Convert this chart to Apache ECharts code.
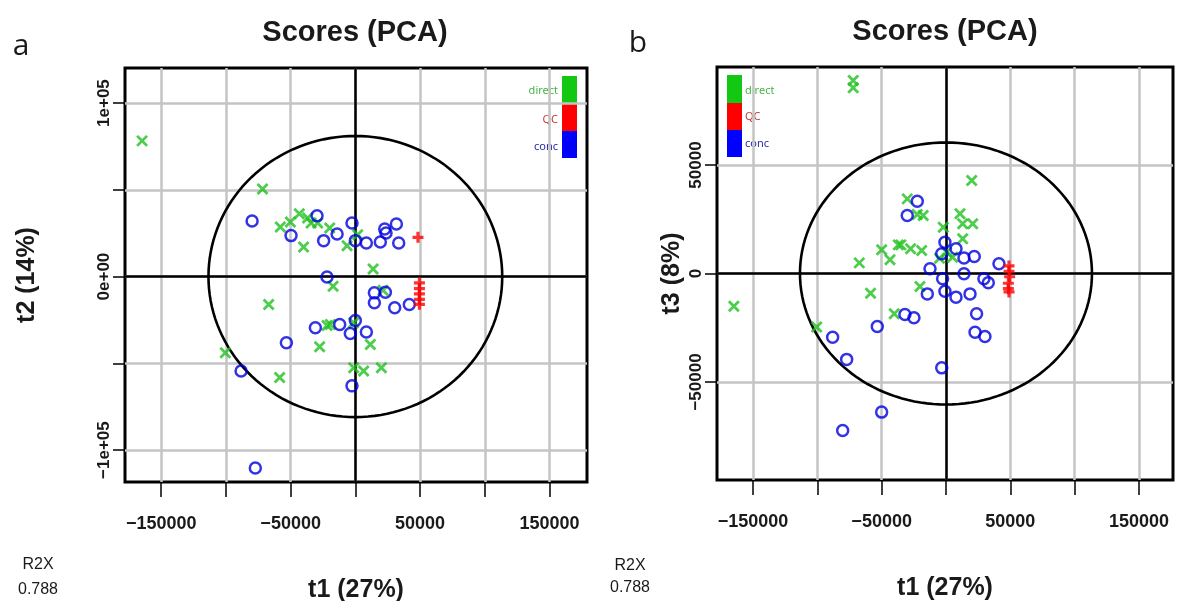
<!DOCTYPE html>
<html>
<head>
<meta charset="utf-8">
<title>Scores (PCA)</title>
<script src="https://cdn.jsdelivr.net/npm/echarts@6/dist/echarts.min.js"></script>
<style>
  html, body { margin: 0; padding: 0; background: #fff; }
  #chart { width: 1182px; height: 601px; }
</style>
</head>
<body>
<div id="chart"></div>
<script>
// panel a: t1 vs t2, panel b: t1 vs t3
const aDirect = [
  [-164800, 78200], [-71700, 50500], [-43300, 36200], [-50200, 31400], [-58000, 28500],
  [-36900, 33700], [-34200, 30900], [-29100, 30900], [-19800, 28000], [-40000, 17100],
  [-6400, 17800], [1800, 24100], [13700, 4400], [-17200, -5600], [21400, -7900],
  [-67000, -16100], [-21900, -28200], [-19300, -27600], [-1300, -26600], [-27600, -40400],
  [11600, -39100], [-100500, -43900], [-58500, -58200], [-1300, -52500], [6400, -54400], [20100, -52500]
];
const aQC = [[48400, 22600], [49500, -3600], [49500, -7000], [49500, -10000], [49500, -13200], [49500, -16000]];
const aConc = [
  [-79800, 32000], [-29600, 35000], [-49700, 23600], [-24500, 20700], [-14100, 24500],
  [-2600, 30900], [0, 20700], [8500, 19400], [19300, 19900], [22700, 27400],
  [23700, 25100], [31700, 30300], [33500, 19400], [-21900, -200], [14700, -9400],
  [23200, -9000], [14700, -15100], [30400, -18000], [41700, -16100], [-30900, -29500],
  [-12100, -27600], [0, -25300], [-3900, -32800], [8500, -32000], [-53300, -38100],
  [-88300, -54400], [-77300, -110300], [-2600, -63000]
];

const bDirect = [
  [-72100, 89000], [-72100, 85600], [-30100, 34400], [-22300, 27200], [-17700, 26700],
  [-50000, 10900], [-43500, 6300], [-37100, 13200], [-35000, 13200], [-27500, 11400],
  [-18900, 10600], [-67400, 4900], [-2100, 21300], [-5000, 7000], [20000, 42900],
  [10900, 27500], [13000, 22900], [20800, 22900], [13000, 16000], [500, 9800],
  [5200, 7500], [-58600, -9100], [-20200, -6000], [-40200, -18600], [-164900, -15100], [-100500, -24700]
];
const bQC = [[49000, 3500], [49000, 1000], [49500, -1500], [48500, -4500], [48500, -7000], [49000, -8500]];
const bConc = [
  [-22300, 33300], [-30100, 26700], [-800, 14400], [-3300, 9100], [-12400, 2200],
  [7800, 11400], [14000, 7200], [22000, 7800], [41200, 4500], [-2600, -2400],
  [14000, -100], [29500, -2400], [32900, -4300], [-800, -8200], [-14500, -9400],
  [7800, -10900], [18700, -9400], [23800, -18600], [-31900, -18900], [-24900, -20400],
  [-53400, -24400], [22600, -27100], [30300, -29000], [-88100, -29400], [-77200, -39600],
  [-3300, -43500], [-50000, -63900], [-80300, -72400]
];

// Hotelling T2 ellipse: [centre t1, centre t2/t3, semi-axis t1, semi-axis t2/t3]
const aEllipse = [0, 0, 113500, 81000];
const bEllipse = [0, 0, 113500, 60400];

// ticks and labels
const xTicks = [-150000, -100000, -50000, 0, 50000, 100000, 150000];
const xLabels = [-150000, -50000, 50000, 150000];
const aYTicks = [-100000, -50000, 0, 50000, 100000];
const aYLabels = [-100000, 0, 100000];
const aYLabelText = ['−1e+05', '0e+00', '1e+05'];
const bYTicks = [-50000, 0, 50000];
const bYLabels = [-50000, 0, 50000];

const groups = ['direct', 'QC', 'conc'];
const groupColors = ['#1fc01f', '#ff0000', '#0000e0'];
const legendFill = ['#12c812', '#ff0000', '#0000ff'];
const legendTextColors = ['#45b545', '#c83a3a', '#2a2aa8'];

const FONT = '"Liberation Sans", Arial, sans-serif';
const crossSymbol = 'path://M0,0L10,10M10,0L0,10';
const plusSymbol = 'path://M5,0L5,10M0,5L10,5';

const chart = echarts.init(document.getElementById('chart'));

function minusSign(v) {
    return String(v).replace('-', '−');
}

function xAxisFor(gridIndex, min, max) {
    return {
        gridIndex: gridIndex,
        type: 'value',
        min: min,
        max: max,
        name: 't1 (27%)',
        nameLocation: 'middle',
        nameGap: 96,
        nameTextStyle: { fontFamily: FONT, fontWeight: 'bold', fontSize: 25, color: '#1a1a1a' },
        axisLine: { show: false, onZero: false },
        axisTick: { show: true, length: 15, customValues: xTicks, lineStyle: { color: '#000', width: 1.5 } },
        axisLabel: {
            customValues: xLabels, margin: 33, fontFamily: FONT, fontWeight: 'bold',
            fontSize: 18, color: '#1a1a1a', formatter: minusSign
        },
        splitLine: { show: true, lineStyle: { color: '#c4c4c4', width: 2.5 } }
    }
}

function yAxisFor(gridIndex, min, max, name, ticks, labels, fmt, gap) {
    return {
        gridIndex: gridIndex,
        type: 'value',
        min: min,
        max: max,
        name: name,
        nameLocation: 'middle',
        nameGap: gap,
        nameTextStyle: { fontFamily: FONT, fontWeight: 'bold', fontSize: 25, color: '#1a1a1a' },
        axisLine: { show: false, onZero: false },
        axisTick: { show: true, length: 12, customValues: ticks, lineStyle: { color: '#000', width: 1.5 } },
        axisLabel: {
            customValues: labels, rotate: 90, margin: 12, fontFamily: FONT, fontWeight: 'bold',
            fontSize: 17, color: '#1a1a1a', formatter: fmt
        },
        splitLine: { show: true, lineStyle: { color: '#c4c4c4', width: 2.5 } }
    }
}

function ellipseSeries(idx, data) {
    return {
        type: 'custom',
        xAxisIndex: idx,
        yAxisIndex: idx,
        data: [data],
        encode: { x: 0, y: 1 },
        silent: true,
        z: 3,
        renderItem: function (params, api) {
            const cx = api.value(0), cy = api.value(1);
            const rx = api.value(2), ry = api.value(3);
            const pts = [];
            for (let i = 0; i <= 144; i++) {
                const t = i / 144 * Math.PI * 2;
                pts.push(api.coord([cx + rx * Math.cos(t), cy + ry * Math.sin(t)]));
            }
            return {
                type: 'polyline',
                shape: { points: pts },
                style: { fill: 'none', stroke: '#000', lineWidth: 2.6 }
            };
        }
    }
}

function pointSeries(idx, data, group) {
    const gi = groups.indexOf(group);
    const s = {
        name: group,
        type: 'scatter',
        xAxisIndex: idx,
        yAxisIndex: idx,
        data: data,
        z: 5,
        emphasis: { disabled: true }
    };
    if (group === 'direct') {
        s.symbol = crossSymbol;
        s.symbolSize = 10;
        s.itemStyle = { color: 'rgba(0,0,0,0)', borderColor: groupColors[gi], borderWidth: 2.8 };
        s.markLine = {
            silent: true,
            symbol: ['none', 'none'],
            label: { show: false },
            lineStyle: { color: '#000', width: 2.5, type: 'solid' },
            data: [{ xAxis: 0 }, { yAxis: 0 }],
            z: 4
        };
    } else if (group === 'QC') {
        s.symbol = plusSymbol;
        s.symbolSize = 11;
        s.itemStyle = { color: 'rgba(0,0,0,0)', borderColor: groupColors[gi], borderWidth: 3.2 };
    } else {
        s.symbol = 'circle';
        s.symbolSize = 11;
        s.itemStyle = { color: 'rgba(0,0,0,0)', borderColor: groupColors[gi], borderWidth: 2.5 };
    }
    return s;
}

function legendGraphics(rectX, textX, textAlign, top, textYs) {
    const els = [];
    const heights = [28, 27, 27];
    let y = top;
    groups.forEach(function (g, i) {
        els.push({
            type: 'rect',
            shape: { x: rectX, y: y, width: 15, height: heights[i] },
            style: { fill: legendFill[i] }
        });
        y += heights[i];
        els.push({
            type: 'text',
            x: textX,
            y: textYs[i],
            style: {
                text: g, fill: legendTextColors[i], font: '11px "Noto Sans", sans-serif',
                align: textAlign, textAlign: textAlign, verticalAlign: 'middle', textVerticalAlign: 'middle'
            }
        });
    });
    return els;
}

function label(text, x, y, font, align) {
    return {
        type: 'text',
        x: x,
        y: y,
        style: {
            text: text, fill: '#1a1a1a', font: font,
            align: align || 'center', textAlign: align || 'center',
            verticalAlign: 'middle', textVerticalAlign: 'middle'
        }
    };
}

chart.setOption({
    animation: false,
    backgroundColor: '#fff',
    grid: [
        { left: 125, top: 68, width: 462, height: 414, outerBoundsMode: 'none', containLabel: false,
          show: true, borderColor: '#000', borderWidth: 3, backgroundColor: '#fff' },
        { left: 717, top: 67, width: 456, height: 413, outerBoundsMode: 'none', containLabel: false,
          show: true, borderColor: '#000', borderWidth: 3, backgroundColor: '#fff' }
    ],
    xAxis: [
        xAxisFor(0, -178000, 179000),
        xAxisFor(1, -178000, 176500)
    ],
    yAxis: [
        yAxisFor(0, -118400, 120200, 't2 (14%)', aYTicks, aYLabels,
            function (v) { return aYLabelText[aYLabels.indexOf(v)]; }, 85),
        yAxisFor(1, -95200, 95200, 't3 (8%)', bYTicks, bYLabels, minusSign, 32)
    ],
    series: [
        ellipseSeries(0, aEllipse),
        pointSeries(0, aDirect, 'direct'),
        pointSeries(0, aConc, 'conc'),
        pointSeries(0, aQC, 'QC'),
        ellipseSeries(1, bEllipse),
        pointSeries(1, bDirect, 'direct'),
        pointSeries(1, bConc, 'conc'),
        pointSeries(1, bQC, 'QC')
    ],
    graphic: [
        label('Scores (PCA)', 355, 33, 'bold 29px ' + FONT),
        label('Scores (PCA)', 945, 32, 'bold 29px ' + FONT),
        label('a', 21, 46, '30px "Open Sans", sans-serif'),
        label('b', 638, 43, '30px "Open Sans", sans-serif'),
        label('R2X', 38, 565, '16px ' + FONT),
        label('0.788', 38, 590, '16px ' + FONT),
        label('R2X', 630, 566, '16px ' + FONT),
        label('0.788', 630, 588, '16px ' + FONT)
    ].concat(
        legendGraphics(562, 558, 'right', 76, [91, 120, 147]),
        legendGraphics(727, 745, 'left', 75, [91, 117, 144])
    )
});
</script>
</body>
</html>
